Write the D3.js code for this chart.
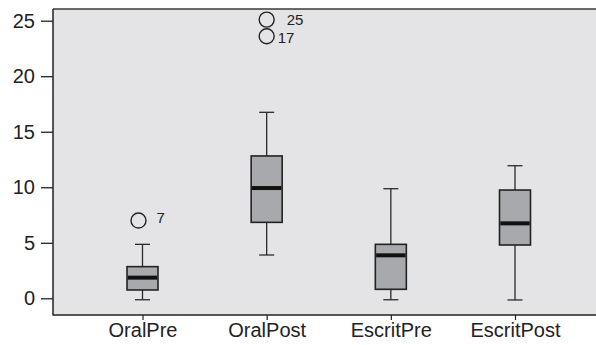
<!DOCTYPE html>
<html>
<head>
<meta charset="utf-8">
<script src="https://cdn.jsdelivr.net/npm/d3@7"></script>
<style>
  body { margin: 0; background: #fff; }
  svg { display: block; font-family: "Liberation Sans", Arial, sans-serif; }
</style>
</head>
<body>
<div id="chart"></div>
<script>
// categories and box statistics
var categories = ["OralPre", "OralPost", "EscritPre", "EscritPost"];
var whiskerLow  = [-0.13, 3.9, -0.13, -0.15];
var q1          = [0.75, 6.84, 0.81, 4.8];
var medians     = [1.86, 9.93, 3.87, 6.75];
var q3          = [2.85, 12.82, 4.86, 9.75];
var whiskerHigh = [4.86, 16.75, 9.87, 11.94];
// outliers: category, value, case label
var outlierCat   = ["OralPre", "OralPost", "OralPost"];
var outlierValue = [7.0, 25.1, 23.6];
var outlierLabel = ["7", "25", "17"];
var yTicks = [0, 5, 10, 15, 20, 25];

var width = 596, height = 345;
var margin = {top: 9, right: 0, bottom: 30, left: 53};

// label placement per outlier (style only)
var labelStyle = {
  "7":  {cx: -4, dx: 14, dy: -3},
  "25": {cx: 0,  dx: 20, dy: 0},
  "17": {cx: 0,  dx: 11, dy: 2}
};

var svg = d3.select("#chart").append("svg")
  .attr("width", width)
  .attr("height", height);

var x = d3.scalePoint()
  .domain(categories)
  .range([margin.left + 89.5, margin.left + 462]);

var y = d3.scaleLinear()
  .domain([0, 25])
  .range([298.3, 20.7]);

// plot background
svg.append("rect")
  .attr("x", margin.left)
  .attr("y", margin.top)
  .attr("width", width - margin.left - margin.right)
  .attr("height", height - margin.top - margin.bottom - 0.3)
  .attr("fill", "#e4e4e6");

// top border
svg.append("line")
  .attr("x1", margin.left).attr("x2", width)
  .attr("y1", margin.top).attr("y2", margin.top)
  .attr("stroke", "#3a3a3a").attr("stroke-width", 1.6);

var yAxis = d3.axisLeft(y).tickValues(yTicks).tickSize(12).tickPadding(6);
var gy = svg.append("g")
  .attr("transform", "translate(" + margin.left + ",0)")
  .call(yAxis);
gy.select(".domain").remove();
gy.append("line")
  .attr("x1", 0).attr("x2", 0)
  .attr("y1", margin.top).attr("y2", height - margin.bottom + 0.5)
  .attr("stroke", "#222").attr("stroke-width", 1.5);
gy.selectAll(".tick line").attr("stroke", "#222").attr("stroke-width", 1.3);
gy.selectAll(".tick text").attr("fill", "#222").style("font-size", "20px");

var xAxis = d3.axisBottom(x).tickSize(5).tickPadding(3);
var gx = svg.append("g")
  .attr("transform", "translate(0," + (height - margin.bottom) + ")")
  .call(xAxis);
gx.select(".domain").remove();
gx.append("line")
  .attr("x1", margin.left).attr("x2", width)
  .attr("y1", 0).attr("y2", 0)
  .attr("stroke", "#222").attr("stroke-width", 1.5);
gx.selectAll(".tick line").attr("stroke", "#222").attr("stroke-width", 1.2);
gx.selectAll(".tick text").attr("fill", "#222").style("font-size", "20px");

var boxW = 31, capW = 15;

var boxes = svg.append("g").selectAll("g")
  .data(categories)
  .enter().append("g")
  .attr("transform", function(d) { return "translate(" + x(d) + ",0)"; });

// whiskers
boxes.append("line")
  .attr("x1", 0).attr("x2", 0)
  .attr("y1", function(d, i) { return y(whiskerLow[i]); })
  .attr("y2", function(d, i) { return y(whiskerHigh[i]); })
  .attr("stroke", "#2a2a2a").attr("stroke-width", 1.3);
boxes.append("line")
  .attr("x1", -capW / 2).attr("x2", capW / 2)
  .attr("y1", function(d, i) { return y(whiskerLow[i]); })
  .attr("y2", function(d, i) { return y(whiskerLow[i]); })
  .attr("stroke", "#2a2a2a").attr("stroke-width", 1.3);
boxes.append("line")
  .attr("x1", -capW / 2).attr("x2", capW / 2)
  .attr("y1", function(d, i) { return y(whiskerHigh[i]); })
  .attr("y2", function(d, i) { return y(whiskerHigh[i]); })
  .attr("stroke", "#2a2a2a").attr("stroke-width", 1.3);

// box
boxes.append("rect")
  .attr("x", -boxW / 2)
  .attr("width", boxW)
  .attr("y", function(d, i) { return y(q3[i]); })
  .attr("height", function(d, i) { return y(q1[i]) - y(q3[i]); })
  .attr("fill", "#a8a9ad")
  .attr("stroke", "#222").attr("stroke-width", 1.6);

// median
boxes.append("line")
  .attr("x1", -boxW / 2 + 0.8).attr("x2", boxW / 2 - 0.8)
  .attr("y1", function(d, i) { return y(medians[i]); })
  .attr("y2", function(d, i) { return y(medians[i]); })
  .attr("stroke", "#111").attr("stroke-width", 4);

// outliers
var outs = svg.append("g").selectAll("g")
  .data(outlierValue)
  .enter().append("g");
outs.append("circle")
  .attr("cx", function(d, i) { return x(outlierCat[i]) + labelStyle[outlierLabel[i]].cx; })
  .attr("cy", function(d) { return y(d); })
  .attr("r", 7.5)
  .attr("fill", "none")
  .attr("stroke", "#222").attr("stroke-width", 1.4);
outs.append("text")
  .attr("x", function(d, i) { return x(outlierCat[i]) + labelStyle[outlierLabel[i]].dx; })
  .attr("y", function(d, i) { return y(d) + labelStyle[outlierLabel[i]].dy; })
  .attr("dy", "0.35em")
  .attr("fill", "#222")
  .style("font-size", "15px")
  .text(function(d, i) { return outlierLabel[i]; });
</script>
</body>
</html>
